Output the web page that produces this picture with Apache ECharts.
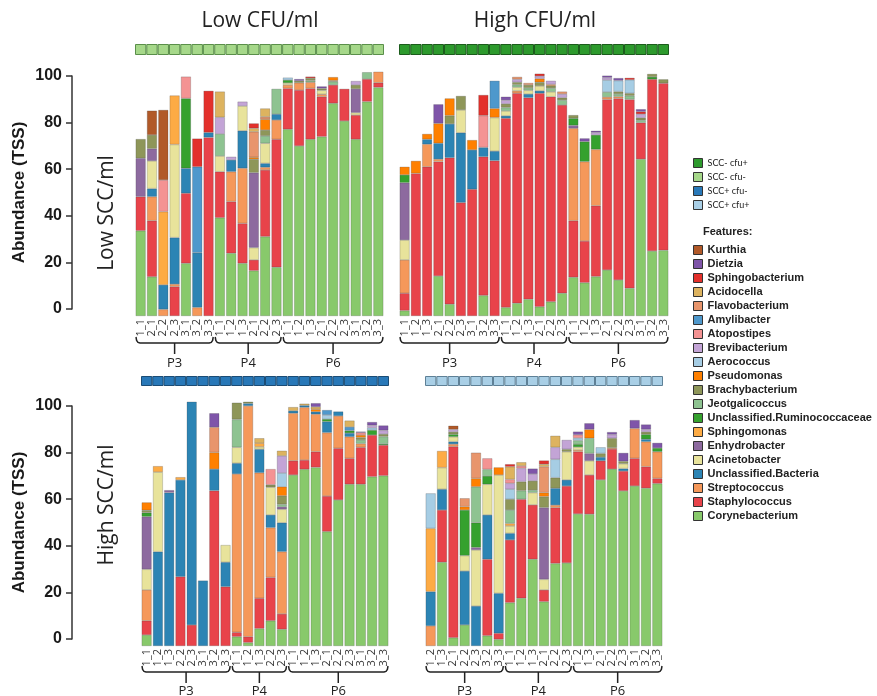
<!DOCTYPE html>
<html><head><meta charset="utf-8">
<script src="https://cdn.jsdelivr.net/npm/echarts@6/dist/echarts.min.js"></script>
<style>html,body{margin:0;padding:0;background:#fff}#c{width:877px;height:696px}</style>
</head><body><div id="c"></div>
<script>
// ---------- DATA ----------
const features = ["Corynebacterium","Staphylococcus","Streptococcus","Unclassified.Bacteria","Acinetobacter","Enhydrobacter","Sphingomonas","Unclassified.Ruminococcaceae","Jeotgalicoccus","Brachybacterium","Pseudomonas","Aerococcus","Brevibacterium","Atopostipes","Amylibacter","Flavobacterium","Acidocella","Sphingobacterium","Dietzia","Kurthia"];
const groupNames = ["SCC- cfu-","SCC- cfu+","SCC+ cfu-","SCC+ cfu+"];
const periodNames = ["P3","P4","P6"];

// Low SCC / Low CFU (top-left)
const tlLabels = ["1_1","2_1","2_2","2_3","3_1","3_2","3_3","1_1","1_2","1_3","2_1","2_2","2_3","1_1","1_2","1_3","2_1","2_2","2_3","3_1","3_2","3_3"];
const tlPeriodSizes = [7,6,9];
const tlCory  = [34.8,16,0,0,21.5,0,0,40.1,25.6,21.5,18.5,32.4,19.9,76.2,69.4,72.1,73.2,86.8,79.6,72.1,87.5,93.3];
const tlStaph = [13.9,22.9,0,12,28.6,0,72.9,18.8,21.1,16.3,4.4,27.2,52.2,16.7,22.8,20.8,16.3,7.5,13.1,9.9,9.2,1.9];
const tlStrep = [0,9.8,2.7,1,0,3.5,0,0,12.2,22.5,0,1.1,7.9,1.4,3,2.5,1,0,0,0,0,4.5];
const tlUncl  = [0,3.3,10,19,10.2,22.3,2,0,4.8,15.3,0,1.6,2.4,0,0,0,0,0,0,0,0,0];
const tlAcin  = [0,11.3,0,38,0,0,0,6.4,0,10.1,5,8.2,0,0.8,0,0,1.6,0,0,1,0,0];
const tlEnhy  = [15.7,5,0,0,0,0,0,0,0,0,30.6,0,0,0,0,0,0,0,0,9.7,0,0];
const tlSphm  = [0,0,29.9,20,0,0,0,0,0,0,0,0,0,0,0,0,0,0,0,0,0,0];
const tlRumi  = [0,0,0,0,28.5,0,0,0,0,0,0,0,0,1.2,0,0,0,0,0,0,0,0];
const tlJeot  = [0,0,0,0,0,0,0,9,0,0,0,3,10.3,0,0,0.7,0,1.4,0,0,2.8,0];
const tlBrac  = [7.8,5.6,0,0,0,0,0,0,0,0,5.5,2.4,0,0,0.8,1,0.8,0.4,0,1.6,0,0];
const tlPseu  = [0,0,0,0,0,0,0,0,0,0,0.8,4.4,0,0,0,0,0,1.4,0,0,0,0];
const tlAero  = [0,0,0,0,0,0,0,0,0,0,0,0,0,1,0,0,0,0,0,0,0,0];
const tlBrev  = [0,0,0,0,0,0,0,6.8,1.3,1.8,0,0,0,0,0,0,0,0,0,1.6,0,0];
const tlAtop  = [0,0,12.9,0,8.9,0,0,0,0,0,0,0,0,0,0,0,0,0,0,0,0,0];
const tlAmyl  = [0,0,0,0,0,35.1,0,0,0,0,0,0,0,0,0,0,0,0,0,0,0,0];
const tlFlav  = [0,0,0,0,0,0,0,0,0,0,10.4,1,0,0,0,0,0,0,0,0,0,0];
const tlAcid  = [0,0,0,0,0,0,0,10.5,0,0,1.4,3.4,0,0,0,0,0,0,0,0,0,0];
const tlSphb  = [0,0,0,0,0,11.5,17,0,0,0,2,0,0,0,0,0.6,0,0,0,0,0,0];
const tlDiet  = [0,0,0,0,0,0,0,0,0,0,0,0,0,0,0.7,0,0.8,0,0,0,0,0];
const tlKurt  = [0,9.9,28.6,0,0,0,0,0,0,0,0,0,0,0,0,0,0,0,0,0,0,0];

// Low SCC / High CFU (top-right)
const trLabels = ["1_1","1_2","1_3","2_1","2_2","2_3","3_1","3_2","3_3","1_1","1_2","1_3","2_1","2_2","2_3","1_1","1_2","1_3","2_1","2_2","2_3","3_1","3_2","3_3"];
const trPeriodSizes = [9,6,9];
const trCory  = [2.2,0,0,16.3,4.8,0,0,8.4,0,3.5,5.2,6.8,3.8,5.8,9.3,15.8,13.6,16.1,18.8,14.7,11.3,64,26.5,26.8];
const trStaph = [7.1,58.2,60.9,46.7,59.8,46.3,51.7,56.6,63.4,77.2,85.7,82.3,87.1,83.7,76.8,23.1,17,28.9,69.6,74.1,77.1,14.9,70.1,68.2];
const trStrep = [13.6,0,9.2,1,0,0,0,0,0,0,1,0,0,0,0,37.7,32.4,23,1,0.8,0,0,0,0];
const trUncl  = [0,0,2,6.5,13.8,28.5,16.1,3.8,3.9,1,0,1.5,1,0,0,0,0,0,0,0,0,0,0,0];
const trAcin  = [8.1,0,0,0,0,9.3,0,0,13.7,2,1.5,1.5,2,2,0,0,0,0,0,0,0,0,0,0];
const trEnhy  = [23.4,0,0,0,0,0,0,0,0,0,0,0,0,0,0,1.2,0,0,0,0,0,0,0,0];
const trSphm  = [0,0,0,0,0,0,0,0,0,0,0,0,0,0,0,0,0,0,0,0,0,0,0,0];
const trRumi  = [3.2,0,0,0,0,0,0,0,0,0,0,0,0,0,0,2.9,8.2,5.9,0,0,0,0,1,0];
const trJeot  = [0,0,0,0,0,0,0,0,0,1.4,1,1,0,1.5,2,0,0,0,2,1,1.5,1,0,0];
const trBrac  = [0,0,0,0,3.4,5.7,0,0,0,1.5,1,1.2,1.5,1,1,1.3,0,0,0,1,1,1,1.2,1.6];
const trPseu  = [3.3,5.1,2.2,8.1,7,0,4,0,3.7,0,0,0,1.5,0.5,0,0,0,0,0,0,0,0,0,0];
const trAero  = [0,0,0,0,0,0,0,0,0,0,0,0,0,0,0,0,0,0,4.9,4.5,5.5,0,0,0];
const trBrev  = [0,0,0,0,0,0,0,0,0,1.5,1.2,0,1,1.5,1.5,0,0,1,1,0,0,1.5,0,0];
const trAtop  = [0,0,0,0,0,0,0,13,0,0,0,0,0,0,0,0,0,0,0,0,0,0,0,0];
const trAmyl  = [0,0,0,0,0,0,0,0,11.3,0,0,0,0,0,0,0,0,0,0,0,0,0,0,0];
const trFlav  = [0,0,0,0,0,0,0,0,0,0,1,0.8,0,0,1,0,0,0,0,0,0,0,0,0];
const trAcid  = [0,0,0,0,0,0,0,0,0,0,0,0,0,0,0,0,0,0,0,0,0,0,0,0];
const trSphb  = [0,0,0,0,0,0,0,8.4,0,0,0,0,1,0,0,0,0,0,0,0,0.8,1,0,0];
const trDiet  = [0,0,0,7.8,0,0,0,0,0,1.4,0,0,0,0,0,0,1.3,0.7,0.8,1,0,1,0,0];
const trKurt  = [0,0,0,0,0,0,0,0,0,0,0,0,0,0,0,0,0,0,0,0,0,0,0,0];

// High SCC / Low CFU (bottom-left)
const blLabels = ["1_1","1_2","1_3","2_2","2_3","3_1","3_2","3_3","1_1","1_2","1_3","2_2","2_3","1_1","1_2","1_3","2_1","2_2","2_3","3_1","3_2","3_3"];
const blPeriodSizes = [8,5,9];
const blCory  = [4.5,0,0,0,0,0,0,0,3.8,1.4,7.1,10.3,6.8,69.8,72.1,72.9,46.7,59.6,66,66,69.1,69.5];
const blStaph = [5.8,0,0,28.3,8.6,0,63.4,24.2,1.8,2.4,12.4,17.7,6.3,5.8,3.8,6.4,14.5,21.1,10.6,15.1,17,12.5];
const blStrep = [12.6,0,0,0,0,0,0,0,64.6,94.2,51.2,20.3,25.4,19.4,21.5,15.3,25.9,13.2,8.8,1.5,0,0];
const blUncl  = [0,38.5,62.6,39.5,91.1,26.7,8.8,10,4.4,1,9.6,5.2,11.8,1,0.8,1,4.5,1.8,1.5,0,0,0];
const blAcin  = [8.4,32.5,0,0,0,0,0,7,6.5,0,1,11.3,5.5,0,0,0,0,0,0,0,0,0];
const blEnhy  = [21.5,0,1,0,0,0,0,0,0,0,0,0,1,0,0,0,0,0,0,0,0,0];
const blSphm  = [0,2.4,0,1.1,0,0,0,0,0,0,1.5,0,0,0,0,0,0,0,0,0,0,0];
const blRumi  = [1.6,0,0,0,0,0,0,0,0,0,0,0,0,0,0,0,1,0,1,0,2,0.5];
const blJeot  = [0,0,0,0,0,0,0,0,11.4,0,0,0,1,0,0,0,0,0,0,1.5,0,3];
const blBrac  = [1,0,0,0,0,0,0,0,6.8,0.7,0,1,3.5,0,0,0,0,0,0,1,0,1];
const blPseu  = [3.2,0,0,0,0,0,6.8,0,0,0,0,0,3.7,0,0,1,0,0,0,1,0,0];
const blAero  = [0,0,0,0,0,0,0,0,0,0,0,0,5.6,0,0,0,1.7,0,0,0,1,0];
const blBrev  = [0,0,0,0,0,0,0,0,0,0,0,0,7,0,0,0,0,0,0,0,1,1.5];
const blAtop  = [0,0,0,0,0,0,0,0,0,0,0,6.4,0,0,0,0,0,0,0,1,0,0];
const blAmyl  = [0,0,0,0,0,0,0,0,0,0,0,0,0,0,0,0,2,0,1.5,0,0,0];
const blFlav  = [0,0,0,0,0,0,10.3,0,0,0,0,0,0,0,0,0,0,0,0,0,0,0];
const blAcid  = [0,0,0,0,0,0,0,0,0,0,2,0,2.1,1.5,0.7,1,0,0,2.6,0,0,0];
const blSphb  = [0,0,0,0,0,0,0,0,0,0,0,0,0,0,0,0,0,0,0,0,0,0];
const blDiet  = [0,0,0,0,0,0,5.7,0,0,0,0,0,0,0,0,1.5,0,0,0,0.4,1.3,2];
const blKurt  = [0,0,0,0,0,0,0,0,0,0,0,0,0,0,0,0,0,0,0,0,0,0];

// High SCC / High CFU (bottom-right)
const brLabels = ["1_2","1_3","2_1","2_2","2_3","3_2","3_3","1_1","1_2","1_3","2_1","2_2","2_3","1_2","1_3","2_1","2_2","2_3","3_1","3_2","3_3"];
const brPeriodSizes = [7,6,8];
const brCory  = [0,34.2,3.4,8.6,0,4.2,2.7,17.7,19.5,35.4,18.1,33.7,33.9,53.9,53.8,67.8,72.2,63.3,65.3,64.4,66.3];
const brStaph = [0,21.3,78,0,0,31.2,2.5,25.6,40.4,22.2,4.8,22.8,31.4,25.4,16,7.8,8.2,8.1,11.3,8.8,2.1];
const brStrep = [8.2,0,1,0,0,0,0,0,0,0,0,1,0,0.7,0,0,0.5,0,12.2,10.2,10.9];
const brUncl  = [14,8.5,1,22,16.3,18.1,16.3,2.7,0,0,0,6.9,2.5,0,0,1.5,0,1,0,1,0];
const brAcin  = [0,8.8,2,6.3,22.9,12.5,48.3,3,0,5,4.3,0,11.5,1.2,5.8,0,0,2,0,0,0];
const brEnhy  = [0,0,0,0,1,0,0,0,0,0,29.3,0,0,0,3,0,0,0,0,0,0];
const brSphm  = [25.8,6.8,0,0,0,0,0,1,0,0,0,0,0,0,0,0,0,0,0,0,0];
const brRumi  = [0,0,1,18.6,10.1,3.4,0,0,0,0,0,0,0,1.2,0,0,0,0,0,2,1.5];
const brJeot  = [0,0,0,0,14.7,2.7,0,5.5,3.5,1,0,0,0,1.5,6.2,0,0,0,0,0,0];
const brBrac  = [0,0,1,0,0,0,0,4.4,3.7,3.8,4.5,4.3,1,0,0,1.5,3.9,1,0,1,0];
const brPseu  = [0,0,0,1.4,3.4,0,3.1,0,0,0,1.6,0,0,0,3.6,0,0,0,0,0,0];
const brAero  = [14.3,0,0,0,0,0,0,4.1,0,0,0,7.5,0,1,0,2.5,0,0,0,0,0];
const brBrev  = [0,0,1,0,0,0,0,2.4,5.4,2.8,0,4.9,3.8,0,0,0,1.5,0,0,1,0];
const brAtop  = [0,0,0,0,0,4.5,0,1.6,1,0,0,0,0,1.3,0,0,0,0,0,0,0];
const brAmyl  = [0,0,0,0,0,0,0,0,0,0,0,0,0,0,0,0,0,0,0,0,0];
const brFlav  = [0,0,0,3.4,10.5,0,0,0,0,0,10.6,0,0,0,0,0,0,0,0,0,0];
const brAcid  = [0,0,0,0,0,0,0,5.2,1.5,0,1,4.7,0,0,0,0,0,0,0,0,0];
const brSphb  = [0,0,0,0,0,0,0,1,0,0,1.5,0,0,0,0,0,0,0,0,0,0];
const brDiet  = [0,0,0,0,0,0,0,0,0,2.2,0,0,0,1.3,2.5,0,1,3.4,3.4,2,2.1];
const brKurt  = [0,0,1.5,0,0,0,0,0,0,0,0,0,0,0,0,0,0,0,0,0,0];

// ---------- STYLE ----------
const featureColors = ["#88c96b","#e8434a","#f5985a","#2c84b4","#e8e39b","#8d6a9f","#fdab44","#35a12e","#8ec391","#8e9659","#ff8000","#a6cde4","#c3a4d6","#f49393","#4e98cc","#e8956c","#ddb35f","#e3302b","#7f55a9","#b15928"];
const stripFill   = ["#a6d88a","#2d9a2d","#2878b8","#a9cfe6"];
const stripBorder = ["#5a8f4a","#1c5c1c","#1b4c75","#5e8096"];

const panels = [
  {labels: tlLabels, sizes: tlPeriodSizes, values: [tlCory,tlStaph,tlStrep,tlUncl,tlAcin,tlEnhy,tlSphm,tlRumi,tlJeot,tlBrac,tlPseu,tlAero,tlBrev,tlAtop,tlAmyl,tlFlav,tlAcid,tlSphb,tlDiet,tlKurt]},
  {labels: trLabels, sizes: trPeriodSizes, values: [trCory,trStaph,trStrep,trUncl,trAcin,trEnhy,trSphm,trRumi,trJeot,trBrac,trPseu,trAero,trBrev,trAtop,trAmyl,trFlav,trAcid,trSphb,trDiet,trKurt]},
  {labels: blLabels, sizes: blPeriodSizes, values: [blCory,blStaph,blStrep,blUncl,blAcin,blEnhy,blSphm,blRumi,blJeot,blBrac,blPseu,blAero,blBrev,blAtop,blAmyl,blFlav,blAcid,blSphb,blDiet,blKurt]},
  {labels: brLabels, sizes: brPeriodSizes, values: [brCory,brStaph,brStrep,brUncl,brAcin,brEnhy,brSphm,brRumi,brJeot,brBrac,brPseu,brAero,brBrev,brAtop,brAmyl,brFlav,brAcid,brSphb,brDiet,brKurt]}
];

const barGrids = [
  {left:135, top:71, width:249, height:245},
  {left:399, top:71, width:270, height:245},
  {left:141, top:401, width:248, height:245},
  {left:425, top:401, width:238, height:245}
];
const stripGrids = [
  {left:135, top:44, width:249, height:11},
  {left:399, top:44, width:270, height:11},
  {left:141, top:376, width:248, height:10},
  {left:425, top:376, width:238, height:10}
];
const axisGrids = [
  {left:72, top:76, width:10, height:233},
  {left:72, top:406, width:10, height:233}
];
const bracketY = [343, 343, 672, 672];
const periodLabelY = [363, 363, 691, 691];

const grid = [], xAxis = [], yAxis = [], series = [];
const keysOf = p => panels[p].labels.map((l, i) => l + '#' + i);

panels.forEach((pn, p) => {
  grid.push(Object.assign({outerBoundsMode:'none', containLabel:false}, barGrids[p]));
  xAxis.push({type:'category', gridIndex:p, data: keysOf(p),
    axisLine:{show:false}, axisTick:{show:false},
    axisLabel:{interval:0, rotate:90, fontSize:11, color:'#333', margin:3, fontFamily:'Open Sans',
      formatter: v => v.split('#')[0]}});
  yAxis.push({type:'value', gridIndex:p, min:0, max:100, show:false});
  pn.values.forEach((arr, f) => {
    series.push({type:'bar', name: features[f], stack:'s'+p, xAxisIndex:p, yAxisIndex:p,
      data: arr.map(v => v > 0 ? v : '-'), barCategoryGap:'12%',
      itemStyle:{color: featureColors[f], borderColor:'rgba(60,60,60,0.45)', borderWidth:0.5},
      emphasis:{disabled:true}, animation:false});
  });
});
panels.forEach((pn, p) => {
  const gi = 4 + p;
  grid.push(Object.assign({outerBoundsMode:'none', containLabel:false}, stripGrids[p]));
  xAxis.push({type:'category', gridIndex:gi, data: keysOf(p), show:false});
  yAxis.push({type:'value', gridIndex:gi, min:0, max:1, show:false});
  series.push({type:'bar', name: groupNames[p], xAxisIndex:gi, yAxisIndex:gi,
    data: pn.labels.map(() => 1), barCategoryGap:0,
    itemStyle:{color: stripFill[p], borderColor: stripBorder[p], borderWidth:1},
    emphasis:{disabled:true}, animation:false});
});
axisGrids.forEach((g, r) => {
  const gi = 8 + r;
  grid.push(Object.assign({outerBoundsMode:'none', containLabel:false}, g));
  xAxis.push({type:'value', gridIndex:gi, min:0, max:1, show:false});
  yAxis.push({type:'value', gridIndex:gi, min:0, max:100, interval:20, position:'left',
    axisLine:{show:true, lineStyle:{color:'#333', width:1.5}},
    axisTick:{show:true, length:6, lineStyle:{color:'#333', width:1.5}},
    splitLine:{show:false},
    axisLabel:{fontSize:16, fontWeight:'bold', color:'#1a1a1a', fontFamily:'Liberation Sans', margin:10},
    name:'Abundance (TSS)', nameLocation:'middle', nameGap:44, nameRotate:90,
    nameTextStyle:{fontSize:17, fontWeight:'bold', fontFamily:'Liberation Sans', color:'#1a1a1a'}});
});

const chart = echarts.init(document.getElementById('c'), null, {renderer:'canvas', width:877, height:696});
chart.setOption({
  animation:false,
  backgroundColor:'#fff',
  grid, xAxis, yAxis, series,
  legend:[
    {orient:'vertical', left:688, top:151, itemWidth:9, itemHeight:9, itemGap:0, icon:'rect',
     data:["SCC- cfu+","SCC- cfu-","SCC+ cfu-","SCC+ cfu+"],
     itemStyle:{borderColor:'#333', borderWidth:1},
     textStyle:{fontSize:9, fontFamily:'Lato', color:'#222', lineHeight:14}},
    {orient:'vertical', left:688, top:238, itemWidth:9, itemHeight:9, itemGap:0, icon:'rect',
     data: features.slice().reverse(),
     itemStyle:{borderColor:'#333', borderWidth:1},
     textStyle:{fontSize:11, fontWeight:'bold', fontFamily:'Liberation Sans', color:'#222', lineHeight:14}}
  ]
});

// ---------- annotations (titles, brackets) ----------
const graphics = [];
function txt(text, x, y, font, opts) {
  return Object.assign({type:'text', x, y, silent:true,
    style:Object.assign({text, font, fill:'#222', textAlign:'center', textVerticalAlign:'middle', align:'center', verticalAlign:'middle'}, opts || {})});
}
graphics.push(txt('Low CFU/ml', 260, 21, '21px "Open Sans"'));
graphics.push(txt('High CFU/ml', 535, 21, '21px "Open Sans"'));
graphics.push(Object.assign(txt('Low SCC/ml', 107, 213, '21px "Open Sans"'), {rotation: Math.PI/2}));
graphics.push(Object.assign(txt('High SCC/ml', 107, 505, '21px "Open Sans"'), {rotation: Math.PI/2}));
graphics.push(txt('Features:', 703, 232, 'bold 11px "Liberation Sans"', {textAlign:'left', align:'left'}));

panels.forEach((pn, p) => {
  const keys = keysOf(p);
  const band = barGrids[p].width / keys.length;
  let start = 0;
  pn.sizes.forEach((n, g) => {
    const xs = chart.convertToPixel({xAxisIndex:p}, keys[start]);
    const xe = chart.convertToPixel({xAxisIndex:p}, keys[start + n - 1]);
    const x0 = xs - band/2 + 1, x1 = xe + band/2 - 1, xc = (x0 + x1)/2, y = bracketY[p];
    graphics.push({type:'polyline', silent:true,
      shape:{points:[[x0, y-6],[x0+0.6, y-2.5],[x0+2, y-0.6],[x0+4, y],[x1-4, y],[x1-2, y-0.6],[x1-0.6, y-2.5],[x1, y-6]]},
      style:{stroke:'#222', lineWidth:1.5, fill:null}});
    graphics.push({type:'line', silent:true, shape:{x1:xc, y1:y, x2:xc, y2:y+11}, style:{stroke:'#222', lineWidth:1.5}});
    graphics.push(txt(periodNames[g], xc, periodLabelY[p], '13px "Open Sans"'));
    start += n;
  });
});
chart.setOption({graphic: graphics});
</script></body></html>
